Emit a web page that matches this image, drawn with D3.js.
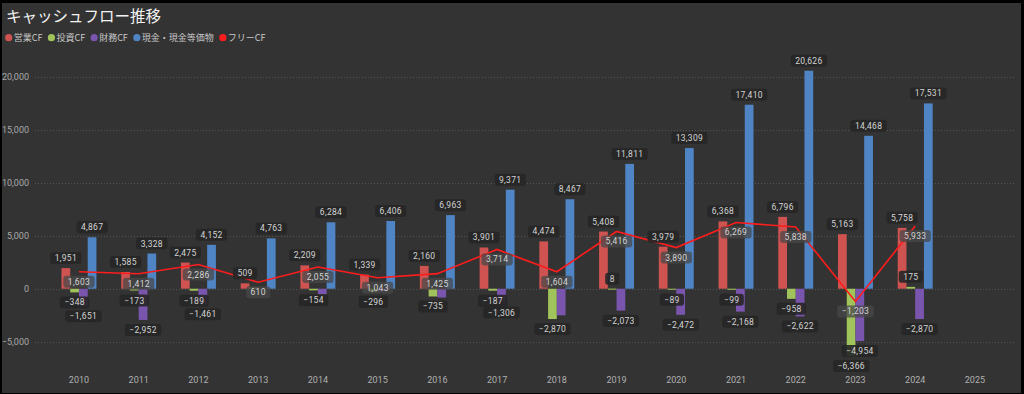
<!DOCTYPE html>
<html>
<head>
<meta charset="utf-8">
<script src="https://cdn.jsdelivr.net/npm/d3@7"></script>
<style>
  body { margin: 0; background: #000; }
  svg { display: block; }
</style>
</head>
<body>
<svg id="chart" width="1024" height="394"></svg>
<script>
// dati
const years = ["2010","2011","2012","2013","2014","2015","2016","2017","2018","2019","2020","2021","2022","2023","2024","2025"];
const operating = [1951,1585,2475,509,2209,1339,2160,3901,4474,5408,3979,6368,6796,5163,5758,null];
const investing = [-348,-173,-189,101,-154,-296,-735,-187,-2870,8,-89,-99,-958,-6366,175,null];
const financing = [-1651,-2952,-1461,null,-540,-250,-830,-1306,-2520,-2073,-2472,-2168,-2622,-4954,-2870,null];
const cash = [4867,3328,4152,4763,6284,6406,6963,9371,8467,11811,13309,17410,20626,14468,17531,null];
const freeCF = [1603,1412,2286,610,2055,1043,1425,3714,1604,5416,3890,6269,5838,-1203,5933,null];
const yTicks = [-5000,0,5000,10000,15000,20000];

const barSeries = [
  { name: "営業CF", values: operating, color: "#cf5451" },
  { name: "投資CF", values: investing, color: "#a0c35b" },
  { name: "財務CF", values: financing, color: "#7a55ae" },
  { name: "現金・現金等価物", values: cash, color: "#4f85c5" }
];
const lineColor = "#ff1c1c";

const svg = d3.select("#chart");
const fmt = d3.format(",");

/* sfondo con bordo scuro */
svg.append("rect").attr("x", 2).attr("y", 3).attr("width", 1019).attr("height", 390).attr("fill", "#333333");

/* titolo */
svg.append("text")
  .attr("x", 6).attr("y", 22)
  .attr("fill", "#f2f2f2")
  .style("font", "15.5px 'Noto Sans CJK JP'")
  .text("キャッシュフロー推移");

/* legenda */
const legendItems = barSeries.map(s => ({ name: s.name, color: s.color })).concat([{ name: "フリーCF", color: lineColor }]);
let lx = 8.7;
legendItems.forEach(it => {
  svg.append("circle").attr("cx", lx).attr("cy", 37.7).attr("r", 3.6).attr("fill", it.color);
  const t = svg.append("text")
    .attr("x", lx + 5).attr("y", 40.8)
    .attr("fill", "#c8c8c8")
    .style("font", "9px 'Noto Sans CJK JP'")
    .text(it.name);
  lx = lx + 5 + t.node().getComputedTextLength() + 9;
});

/* scale */
const x = d3.scaleBand().domain(years).range([49.1, 1004.8]).padding(0);
const groupW = x.step() * 0.585;
const x1 = d3.scaleBand().domain(d3.range(barSeries.length)).range([0, groupW]).padding(0);
const y = d3.scaleLinear().domain([-7000, 22000]).range([362.7, 56.2]);
const cx = d => x(d) + x.bandwidth() / 2;

/* griglia e asse Y */
const grid = svg.append("g");
grid.selectAll("line").data(yTicks).enter().append("line")
  .attr("x1", 35).attr("x2", 1015)
  .attr("y1", d => Math.round(y(d)) + 0.5).attr("y2", d => Math.round(y(d)) + 0.5)
  .attr("stroke", "#545454").attr("stroke-dasharray", "1,2");
grid.selectAll("text").data(yTicks).enter().append("text")
  .attr("x", 29).attr("y", d => y(d) + 3)
  .attr("text-anchor", "end")
  .attr("fill", "#a8a8a8")
  .style("font", "9px Roboto")
  .text(d => fmt(d));

/* asse X */
svg.append("g").selectAll("text").data(years).enter().append("text")
  .attr("x", d => cx(d)).attr("y", 383)
  .attr("text-anchor", "middle")
  .attr("fill", "#b0b0b0")
  .style("font", "9px Roboto")
  .text(d => d);

/* barre */
const labels = [];
barSeries.forEach((s, si) => {
  const g = svg.append("g");
  years.forEach((yr, i) => {
    const v = s.values[i];
    if (v === null) return;
    const bx = cx(yr) - groupW / 2 + x1(si);
    g.append("rect")
      .attr("x", bx).attr("width", x1.bandwidth())
      .attr("y", Math.min(y(v), y(0)))
      .attr("height", Math.max(1, Math.abs(y(v) - y(0))))
      .attr("fill", s.color);
    labels.push({
      x: bx + x1.bandwidth() / 2,
      y: v >= 0 ? y(v) - 10 : y(v) + 10,
      text: fmt(v), prio: si, free: false
    });
  });
});

/* linea FCF */
const pts = years.map((yr, i) => [yr, freeCF[i]]).filter(p => p[1] !== null);
svg.append("path")
  .datum(pts)
  .attr("fill", "none")
  .attr("stroke", lineColor)
  .attr("stroke-width", 1.6)
  .attr("d", d3.line().x(p => cx(p[0])).y(p => y(p[1])));
pts.forEach(p => labels.push({ x: cx(p[0]), y: y(p[1]) + 10, text: fmt(p[1]), prio: -1, free: true }));

/* etichette: nasconde quelle che si sovrappongono (priorità più bassa) */
const lg = svg.append("g");
const placed = [];
labels.sort((a, b) => a.prio - b.prio);
labels.forEach(l => {
  const t = lg.append("text")
    .attr("x", l.x).attr("y", l.y + 3)
    .attr("text-anchor", "middle")
    .attr("fill", "#d4d4d4")
    .style("font", "8.5px Roboto")
    .style("letter-spacing", "0.3px")
    .text(l.text);
  const w = t.node().getComputedTextLength() + 9;
  const box = { x0: l.x - w / 2, x1: l.x + w / 2, y0: l.y - 5.5, y1: l.y + 5.5 };
  const hit = placed.some(b => box.x0 < b.x1 && box.x1 > b.x0 && box.y0 < b.y1 && box.y1 > b.y0);
  if (hit) { t.remove(); return; }
  placed.push(box);
  lg.insert("rect", () => t.node())
    .attr("x", box.x0).attr("y", box.y0 - 0.5)
    .attr("width", w).attr("height", 12)
    .attr("rx", 3)
    .attr("fill", l.free ? "rgba(72,72,72,0.75)" : "rgba(38,38,38,0.9)");
});
</script>
</body>
</html>
